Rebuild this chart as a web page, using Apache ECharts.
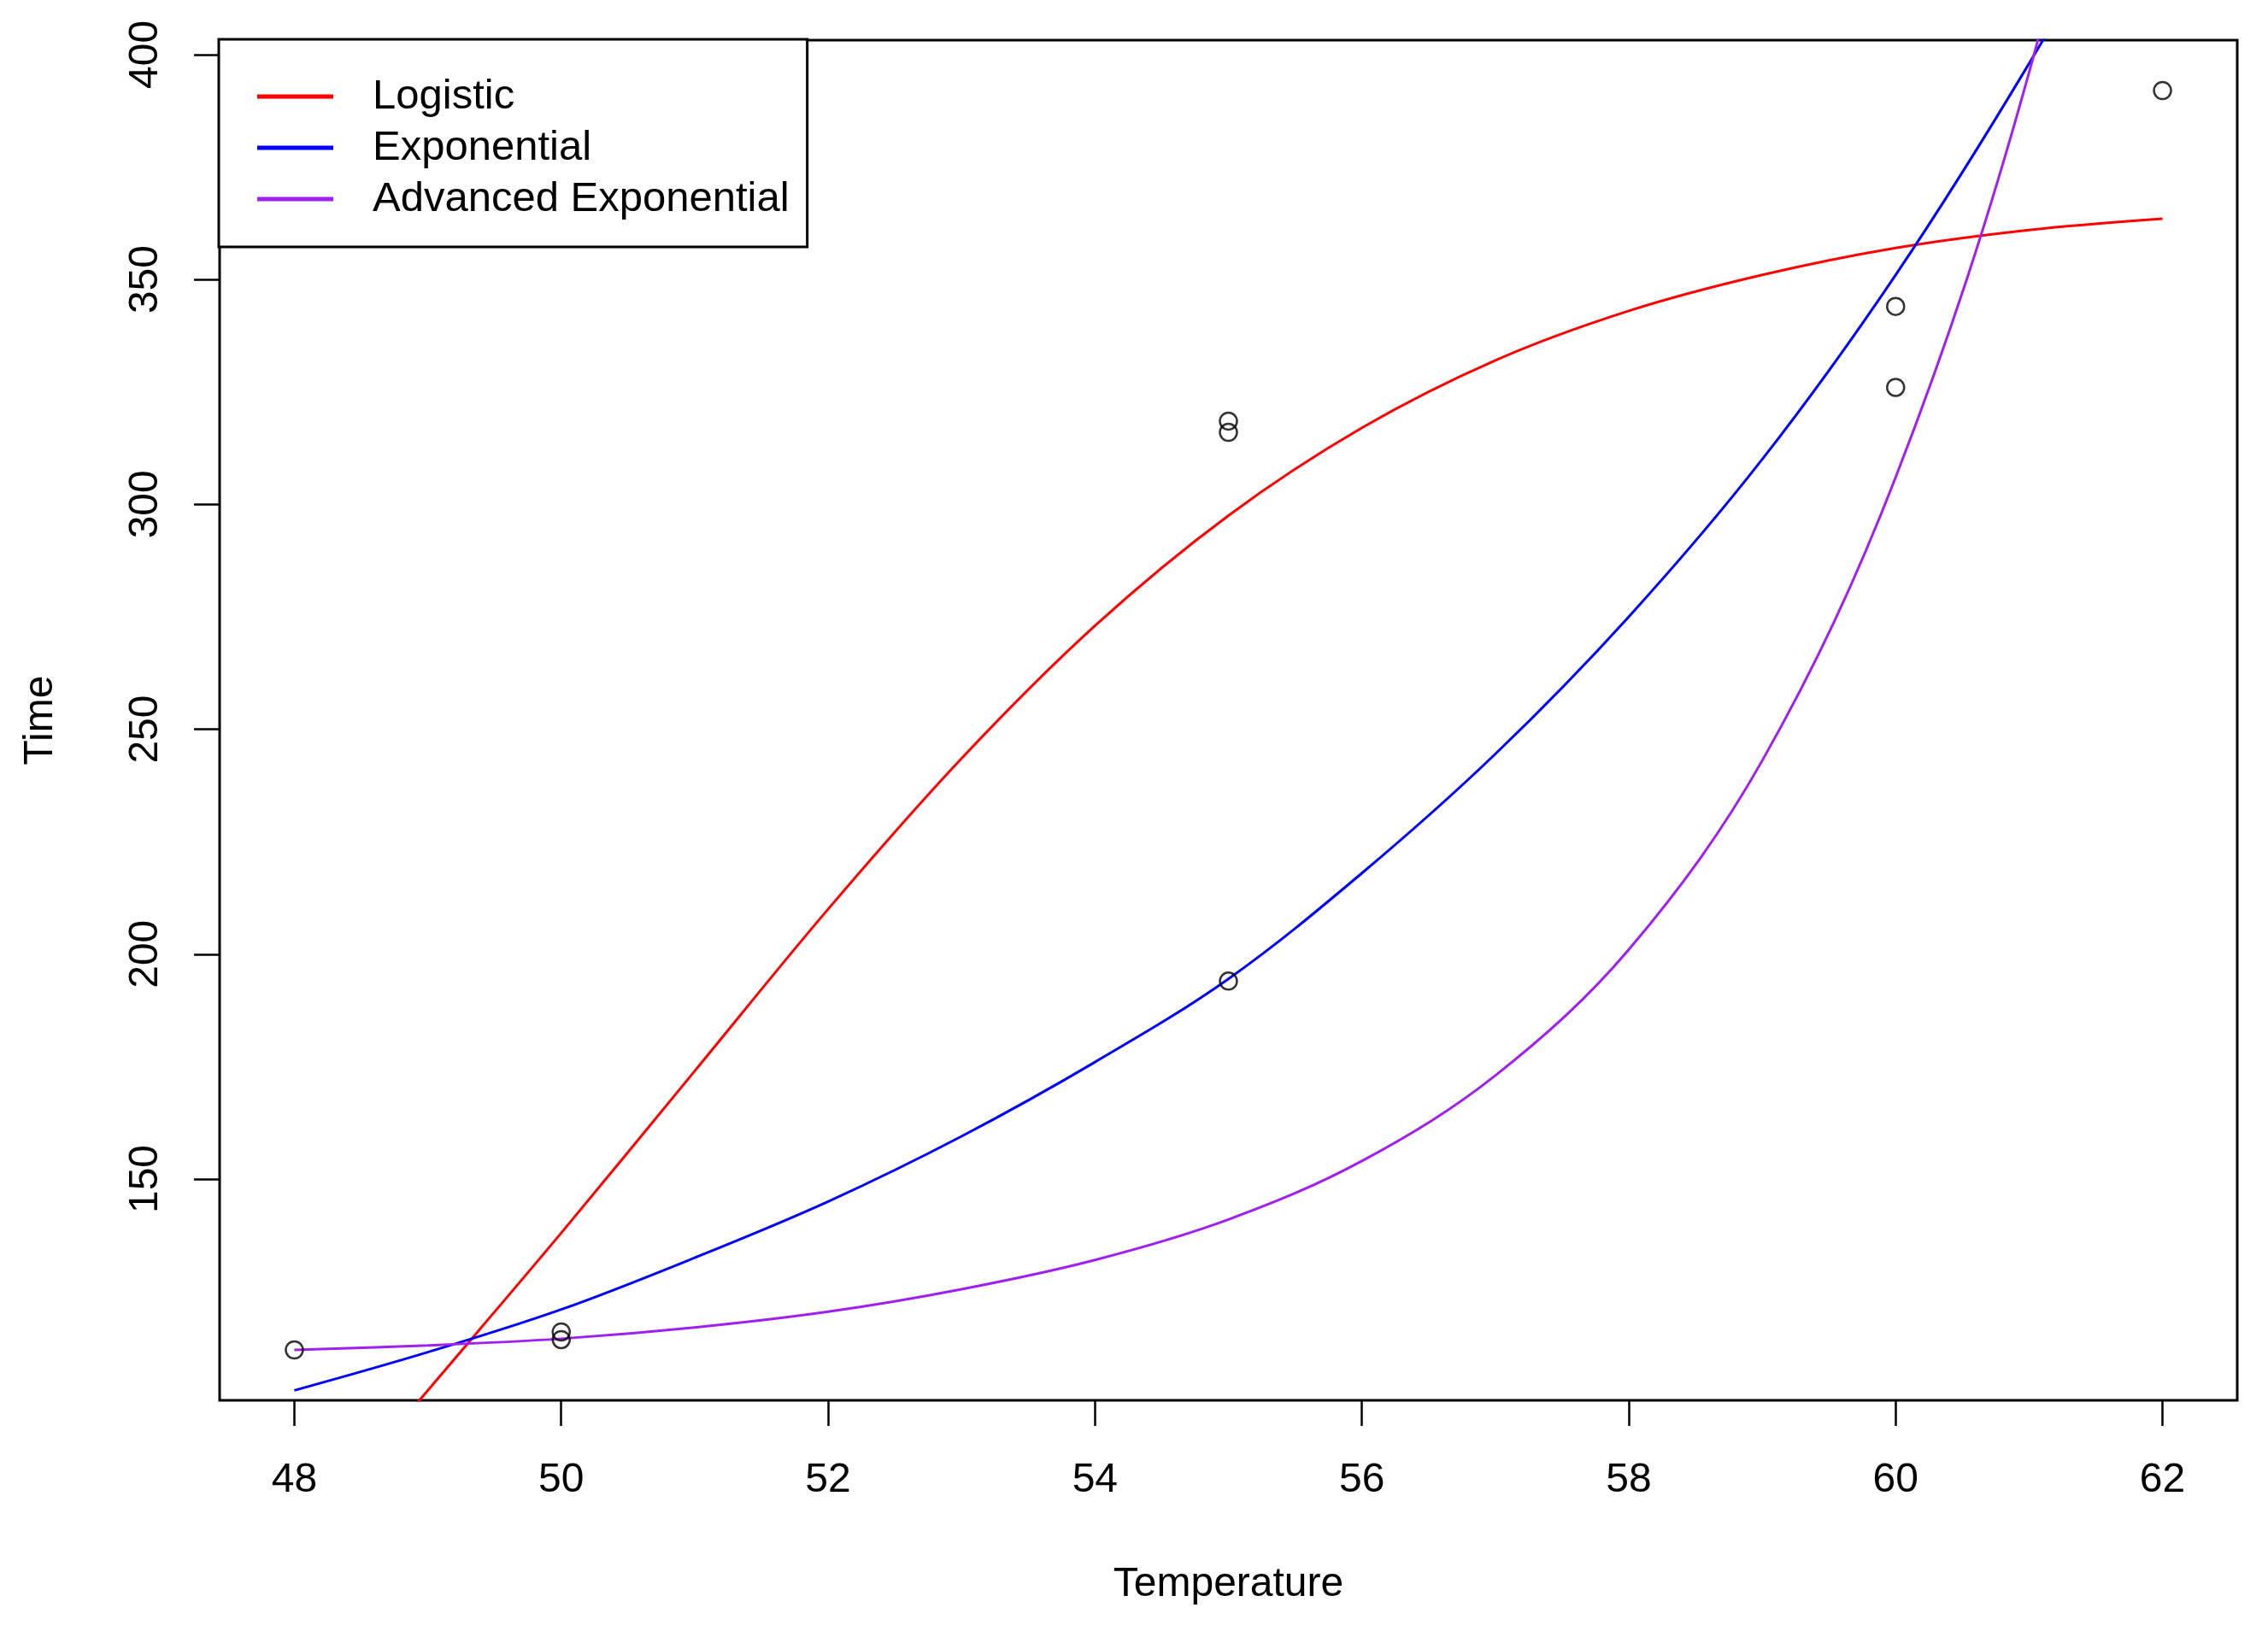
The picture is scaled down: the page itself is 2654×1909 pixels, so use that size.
<!DOCTYPE html>
<html>
<head>
<meta charset="utf-8">
<script src="https://cdn.jsdelivr.net/npm/echarts@6/dist/echarts.min.js"></script>
<style>
  html, body { margin: 0; padding: 0; background: #fff; }
  #chart { width: 2654px; height: 1909px; }
</style>
</head>
<body>
<div id="chart"></div>
<script>
// observed points
var obsTemp = [48, 50, 50, 55, 55, 55, 60, 60, 62];
var obsTime = [112, 116, 114.3, 318.5, 316, 194, 344, 326, 392];

// fitted curves at whole degrees
var fitTemp = [48, 49, 50, 51, 52, 53, 54, 55, 56, 57, 58, 59, 60, 61, 62];
var logistic = [68, 103, 138, 174, 210, 243.5, 273, 297.5, 317, 332, 343, 351, 357, 361, 363.5];
var exponential = [103, 111.5, 121, 132.5, 145, 159.5, 176, 194.5, 218, 244.5, 275, 310, 351, 398, 450];
var advExponential = [112, 113, 114.5, 117, 120.5, 125.5, 132, 141, 154, 173, 201, 243, 306, 396, 520];

var xTicks = [48, 50, 52, 54, 56, 58, 60, 62];
var yTicks = [150, 200, 250, 300, 350, 400];

function pairs(xs, ys) {
    var out = [];
    for (var i = 0; i < xs.length; i++) out.push([xs[i], ys[i]]);
    return out;
}

var font = "'Liberation Sans', Arial, sans-serif";
var myChart = echarts.init(document.getElementById('chart'));

function curve(name, color, values) {
    return {
        name: name,
        type: 'line',
        data: pairs(fitTemp, values),
        color: color,
        showSymbol: false,
        smooth: 0.35,
        clip: true,
        lineStyle: { color: color, width: 3 },
        z: 3
    };
}

option = {
    backgroundColor: '#fff',
    animation: false,
    grid: {
        left: 257, right: 36, top: 47, bottom: 270,
        show: true, borderColor: '#000', borderWidth: 3,
        backgroundColor: 'transparent'
    },
    legend: {
        data: ['Logistic', 'Exponential', 'Advanced Exponential'],
        orient: 'vertical',
        left: 256, top: 46,
        padding: [37, 21, 26, 45],
        itemGap: 0,
        icon: 'rect',
        itemWidth: 89,
        itemHeight: 5,
        backgroundColor: '#fff',
        borderColor: '#000',
        borderWidth: 3,
        textStyle: {
            fontFamily: font, fontSize: 49, color: '#000',
            lineHeight: 60, padding: [0, 0, 0, 41]
        }
    },
    xAxis: {
        type: 'value',
        min: 47.44, max: 62.56,
        name: 'Temperature',
        nameLocation: 'middle',
        nameGap: 192,
        nameTextStyle: { fontFamily: font, fontSize: 48, color: '#000' },
        splitLine: { show: false },
        axisLine: { show: false },
        axisTick: {
            show: true, length: 30, customValues: xTicks,
            lineStyle: { color: '#000', width: 2.5 }
        },
        axisLabel: {
            customValues: xTicks, margin: 70,
            fontFamily: font, fontSize: 48, color: '#000'
        }
    },
    yAxis: {
        type: 'value',
        min: 100.8, max: 403.2,
        name: 'Time',
        nameLocation: 'middle',
        nameRotate: 90,
        nameGap: 185,
        nameTextStyle: { fontFamily: font, fontSize: 48, color: '#000' },
        splitLine: { show: false },
        axisLine: { show: false },
        axisTick: {
            show: true, length: 30, customValues: yTicks,
            lineStyle: { color: '#000', width: 2.5 }
        },
        axisLabel: {
            customValues: yTicks, rotate: 90, margin: 62,
            fontFamily: font, fontSize: 48, color: '#000'
        }
    },
    series: [
        curve('Logistic', '#ff0000', logistic),
        curve('Exponential', '#0000ff', exponential),
        curve('Advanced Exponential', '#a020f0', advExponential),
        {
            name: 'observed',
            type: 'scatter',
            data: pairs(obsTemp, obsTime),
            symbol: 'circle',
            symbolSize: 20,
            itemStyle: { color: 'rgba(0,0,0,0)', borderColor: '#000', borderWidth: 2.5 },
            z: 4
        }
    ]
};

if (option && typeof option === "object") {
    myChart.setOption(option, true);
}
</script>
</body>
</html>
